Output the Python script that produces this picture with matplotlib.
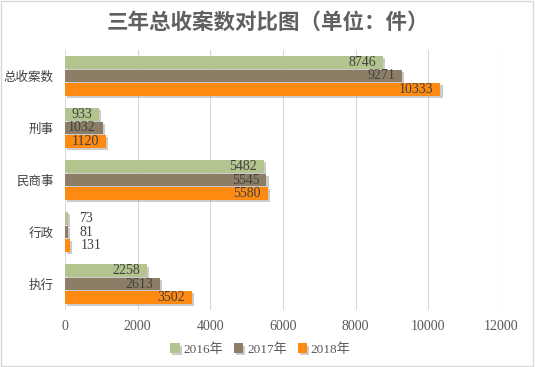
import numpy as np
import matplotlib.pyplot as plt
import matplotlib.patheffects as pe

plt.rcParams['font.family'] = ['Noto Sans CJK SC', 'DejaVu Sans']

# 数据
categories = ['总收案数', '刑事', '民商事', '行政', '执行']
years = ['2016年', '2017年', '2018年']
v2016 = [8746, 933, 5482, 73, 2258]
v2017 = [9271, 1032, 5545, 81, 2613]
v2018 = [10333, 1120, 5580, 131, 3502]
colors = ['#B3C48E', '#8C7E66', '#FF8A12']

fig = plt.figure(figsize=(5.35, 3.67), dpi=100)
ax = fig.add_axes([0.1215, 0.155, 0.815, 0.709])

y = np.arange(len(categories))
h = 0.245
num_font = ['Liberation Serif', 'Noto Sans CJK SC']
shadow = [pe.SimplePatchShadow(offset=(1.5, -1.5), shadow_rgbFace='#999999', alpha=0.5), pe.Normal()]

for i, (vals, c, lab) in enumerate(zip([v2016, v2017, v2018], colors, years)):
    pos = y + (i - 1) * (h + 0.01)
    bars = ax.barh(pos, vals, height=h, color=c, label=lab, zorder=3)
    for b in bars:
        b.set_path_effects(shadow)
    for p, v in zip(pos, vals):
        if v > 500:
            ax.annotate(str(v), (v, p), xytext=(-5, 0), textcoords='offset points',
                        ha='right', va='center', fontsize=10, color='#404040',
                        family=num_font, zorder=4)
        else:
            ax.annotate(str(v), (v, p), xytext=(8, 0), textcoords='offset points',
                        ha='left', va='center', fontsize=10, color='#404040',
                        family=num_font, zorder=4)

ax.set_xlim(0, 12000)
ax.set_xticks(range(0, 12001, 2000))
ax.set_ylim(len(categories) - 0.5, -0.5)
ax.set_yticks(y)
ax.set_yticklabels(categories, fontsize=9, color='#404040')
for t in ax.get_xticklabels():
    t.set_family(num_font)
    t.set_fontsize(10)
    t.set_color('#595959')
ax.tick_params(length=0, pad=8)
ax.tick_params(axis='x', pad=7)
ax.grid(axis='x', color='#D9D9D9', linewidth=0.8, zorder=0)
for s in ax.spines.values():
    s.set_visible(False)

fig.suptitle('三年总收案数对比图（单位：件）', x=0.5, y=0.968, fontsize=15.5,
             fontweight='bold', color='#606060')

leg = fig.legend(loc='center', bbox_to_anchor=(0.487, 0.048), ncol=3, frameon=False,
                 handlelength=0.7, handleheight=0.7, handletextpad=0.3, columnspacing=0.8,
                 prop={'family': num_font, 'size': 9.5})
for t in leg.get_texts():
    t.set_color('#595959')

fig.patches.append(plt.Rectangle((0.002, 0.003), 0.995, 0.993, transform=fig.transFigure,
                                 fill=False, edgecolor='#D9D9D9', linewidth=1))

plt.savefig('out.png', dpi=100)
